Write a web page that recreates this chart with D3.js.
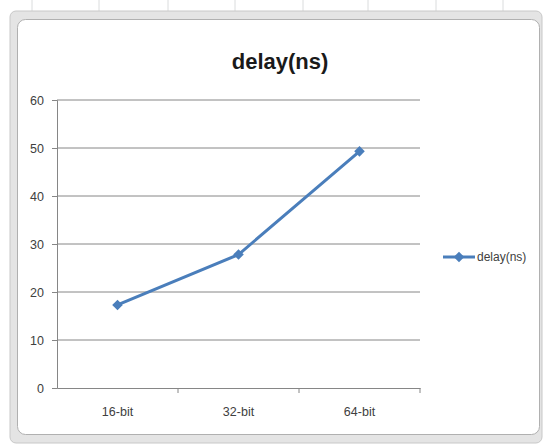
<!DOCTYPE html>
<html>
<head>
<meta charset="utf-8">
<script src="https://cdn.jsdelivr.net/npm/d3@7"></script>
<style>
  body { margin: 0; background: #fff; }
  svg text { fill: #404040; }
</style>
</head>
<body>
<svg width="543" height="444"></svg>
<script>
// chart data
const categories = ["16-bit", "32-bit", "64-bit"];
const delays = [17.3, 27.8, 49.3];
const yTicks = [0, 10, 20, 30, 40, 50, 60];
const seriesName = "delay(ns)";

const svg = d3.select("svg"),
  width = +svg.attr("width"),
  height = +svg.attr("height");

const font = "Liberation Sans, Arial, sans-serif";

// spreadsheet cells peeking out above the chart
const sheetCols = [32, 99, 168, 235, 303, 368, 436, 503];
svg.selectAll(".cell")
  .data(sheetCols)
  .enter().append("line")
  .attr("x1", d => d).attr("x2", d => d)
  .attr("y1", 0).attr("y2", 11)
  .attr("stroke", "#dadcdd");

// chart frame (selection border + chart area)
svg.append("rect")
  .attr("x", 10).attr("y", 11).attr("width", 532).attr("height", 432)
  .attr("rx", 6).attr("fill", "#e4e4e4").attr("stroke", "#c8c8c8");
svg.append("rect")
  .attr("x", 17.5).attr("y", 19.5).attr("width", 522).attr("height", 415)
  .attr("rx", 8).attr("fill", "#fff").attr("stroke", "#b0b0b0");

const margin = { top: 100, left: 57, right: 123, bottom: 56 };
const innerWidth = width - margin.left - margin.right,
  innerHeight = height - margin.top - margin.bottom;

const g = svg.append("g").attr("transform", `translate(${margin.left},${margin.top})`);

const xScale = d3.scaleBand()
  .domain(categories)
  .range([0, innerWidth])
  .padding(0);

const yScale = d3.scaleLinear()
  .domain([0, 60])
  .range([innerHeight, 0]);

// horizontal gridlines
g.selectAll(".grid")
  .data(yTicks.slice(1))
  .enter().append("line")
  .attr("x1", 0).attr("x2", innerWidth)
  .attr("y1", d => yScale(d)).attr("y2", d => yScale(d))
  .attr("stroke", "#868686");

// y axis
const yAxis = d3.axisLeft(yScale).tickValues(yTicks).tickSize(5).tickPadding(8);
const yg = g.append("g").call(yAxis)
  .attr("font-family", font)
  .attr("font-size", 12.5);
yg.select(".domain").attr("stroke", "#868686");
yg.selectAll(".tick line").attr("stroke", "#868686");

// x axis
const xAxis = d3.axisBottom(xScale).tickSize(0).tickPadding(19);
const xg = g.append("g").attr("transform", `translate(0,${innerHeight})`).call(xAxis)
  .attr("font-family", font)
  .attr("font-size", 12.5);
xg.select(".domain").attr("stroke", "#868686");
xg.selectAll(".cat-tick")
  .data(categories)
  .enter().append("line")
  .attr("x1", d => xScale(d) + xScale.bandwidth())
  .attr("x2", d => xScale(d) + xScale.bandwidth())
  .attr("y1", 0).attr("y2", 5)
  .attr("stroke", "#868686");

// series line
const cx = d => xScale(d) + xScale.bandwidth() / 2;
const line = d3.line()
  .x((d, i) => cx(categories[i]))
  .y(d => yScale(d));

g.append("path")
  .datum(delays)
  .attr("fill", "none")
  .attr("stroke", "#4a7ebb")
  .attr("stroke-width", 3)
  .attr("stroke-linejoin", "round")
  .attr("d", line);

// excel style diamond: a square turned 45 degrees
const diamond = d3.symbol().type(d3.symbolSquare).size(56);
g.selectAll(".marker")
  .data(delays)
  .enter().append("path")
  .attr("d", diamond)
  .attr("transform", (d, i) => `translate(${cx(categories[i])},${yScale(d)}) rotate(45)`)
  .attr("fill", "#4a7ebb");

// title
svg.append("text")
  .attr("x", 280)
  .attr("y", 69)
  .attr("text-anchor", "middle")
  .attr("font-family", font)
  .attr("font-size", 22)
  .attr("font-weight", "bold")
  .style("fill", "#1a1a1a")
  .text("delay(ns)");

// legend
const lg = svg.append("g").attr("transform", "translate(443,257)");
lg.append("line").attr("x1", 0).attr("x2", 32).attr("stroke", "#4a7ebb").attr("stroke-width", 3);
lg.append("path").attr("d", diamond).attr("transform", "translate(16,0) rotate(45)").attr("fill", "#4a7ebb");
lg.append("text")
  .attr("x", 34).attr("dy", "0.35em")
  .attr("font-family", font).attr("font-size", 12)
  .text(seriesName);
</script>
</body>
</html>
